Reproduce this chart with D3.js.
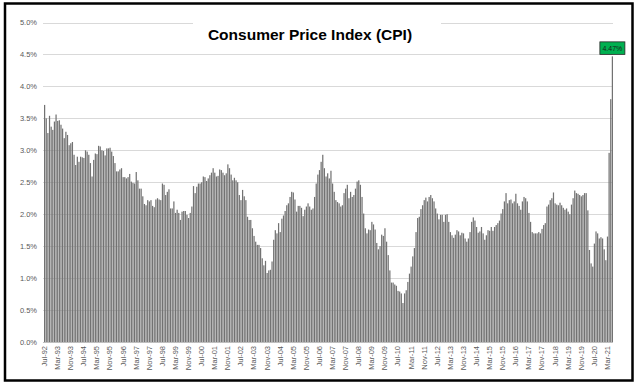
<!DOCTYPE html>
<html>
<head>
<meta charset="utf-8">
<script src="https://cdn.jsdelivr.net/npm/d3@7"></script>
<style>
  body { margin: 0; background: #fff; }
  svg { display: block; font-family: "Liberation Sans", Arial, sans-serif; }
</style>
</head>
<body>
<div id="chart"></div>
<script>
// core CPI, year over year %, monthly from Jul-92 to Jun-21
var cpi1992to1999 = [
  3.71, 3.50, 3.27, 3.54, 3.37, 3.32,
  3.45, 3.56, 3.46, 3.47, 3.40, 3.34, 3.19, 3.29, 3.24, 3.08, 3.11, 3.13,
  2.93, 2.77, 2.90, 2.82, 2.90, 2.89, 2.88, 3.00, 2.98, 2.93, 2.80, 2.59,
  2.85, 2.95, 2.94, 3.07, 3.06, 3.00, 2.99, 2.92, 3.03, 3.03, 3.04, 2.98,
  2.91, 2.80, 2.67, 2.67, 2.70, 2.72, 2.58, 2.58, 2.56, 2.58, 2.63, 2.51,
  2.49, 2.48, 2.66, 2.53, 2.40, 2.40, 2.28, 2.16, 2.14, 2.22, 2.20, 2.22,
  2.13, 2.11, 2.23, 2.25, 2.23, 2.22, 2.48, 2.46, 2.30, 2.35, 2.39, 2.09,
  2.09, 2.20, 2.02, 2.07, 2.02, 1.91, 2.04, 2.05, 2.05, 1.99, 1.94, 2.02
];
var cpi2000to2009 = [
  2.12, 2.44, 2.33, 2.43, 2.48, 2.48, 2.50, 2.59, 2.58, 2.52, 2.56, 2.61,
  2.65, 2.72, 2.65, 2.59, 2.60, 2.70, 2.69, 2.65, 2.61, 2.64, 2.78, 2.72,
  2.62, 2.53, 2.57, 2.53, 2.50, 2.30, 2.22, 2.38, 2.28, 2.22, 1.96, 1.91,
  1.91, 1.78, 1.66, 1.57, 1.52, 1.52, 1.47, 1.31, 1.20, 1.27, 1.08, 1.12,
  1.13, 1.26, 1.60, 1.75, 1.70, 1.86, 1.72, 1.93, 1.98, 2.05, 2.14, 2.17,
  2.27, 2.35, 2.34, 2.23, 2.04, 2.13, 2.13, 2.10, 1.97, 2.07, 2.12, 2.17,
  2.12, 2.07, 2.09, 2.27, 2.48, 2.62, 2.69, 2.82, 2.93, 2.72, 2.59, 2.64,
  2.56, 2.68, 2.48, 2.35, 2.22, 2.19, 2.17, 2.12, 2.14, 2.33, 2.40, 2.46,
  2.25, 2.35, 2.27, 2.30, 2.40, 2.51, 2.53, 2.46, 2.27, 2.01, 1.78, 1.70,
  1.76, 1.75, 1.88, 1.84, 1.76, 1.55, 1.45, 1.50, 1.68, 1.66, 1.78, 1.57
];
var cpi2010to2019 = [
  1.36, 1.12, 0.93, 0.93, 0.90, 0.88, 0.80, 0.79, 0.76, 0.61, 0.76, 0.81,
  0.94, 1.07, 1.18, 1.34, 1.47, 1.72, 1.94, 1.96, 2.08, 2.14, 2.22, 2.26,
  2.20, 2.27, 2.30, 2.25, 2.20, 2.09, 2.01, 1.92, 1.99, 1.99, 1.88, 1.99,
  2.00, 1.88, 1.72, 1.67, 1.63, 1.68, 1.75, 1.73, 1.67, 1.71, 1.70, 1.62,
  1.57, 1.62, 1.72, 1.88, 1.95, 1.90, 1.80, 1.71, 1.73, 1.80, 1.70, 1.60,
  1.67, 1.75, 1.74, 1.80, 1.74, 1.80, 1.83, 1.86, 1.90, 2.01, 2.08, 2.20,
  2.33, 2.17, 2.22, 2.23, 2.17, 2.20, 2.32, 2.17, 2.13, 2.07, 2.20, 2.27,
  2.25, 2.20, 2.02, 1.88, 1.72, 1.70, 1.70, 1.70, 1.72, 1.70, 1.77, 1.83,
  1.86, 2.12, 2.15, 2.22, 2.25, 2.34, 2.17, 2.15, 2.14, 2.18, 2.14, 2.10,
  2.07, 2.09, 2.04, 2.00, 2.15, 2.25, 2.37, 2.33, 2.32, 2.30, 2.28, 2.30
];
var cpi2020to2021 = [
  2.33, 2.33, 2.06, 1.44, 1.23, 1.18, 1.54, 1.73, 1.70, 1.62, 1.64, 1.62,
  1.45, 1.28, 1.65, 2.96, 3.80, 4.47
];
var tickLabels = [
  "Jul-92", "Mar-93", "Nov-93", "Jul-94", "Mar-95", "Nov-95", "Jul-96", "Mar-97",
  "Nov-97", "Jul-98", "Mar-99", "Nov-99", "Jul-00", "Mar-01", "Nov-01", "Jul-02",
  "Mar-03", "Nov-03", "Jul-04", "Mar-05", "Nov-05", "Jul-06", "Mar-07", "Nov-07",
  "Jul-08", "Mar-09", "Nov-09", "Jul-10", "Mar-11", "Nov-11", "Jul-12", "Mar-13",
  "Nov-13", "Jul-14", "Mar-15", "Nov-15", "Jul-16", "Mar-17", "Nov-17", "Jul-18",
  "Mar-19", "Nov-19", "Jul-20", "Mar-21"
];
var yTicks = [0, 0.5, 1, 1.5, 2, 2.5, 3, 3.5, 4, 4.5, 5];

var values = cpi1992to1999.concat(cpi2000to2009, cpi2010to2019, cpi2020to2021);
var months = d3.timeMonth.range(new Date(1992, 6, 1), new Date(2021, 6, 1));
var fmt = d3.timeFormat("%b-%y");
var data = months.map(function (m, i) { return { month: fmt(m), value: values[i] } });

var width = 638,
  height = 387;

var svg = d3.select("#chart")
  .append("svg")
  .attr("width", width)
  .attr("height", height);

var x = d3.scaleBand()
  .domain(data.map(function (d) { return d.month }))
  .range([44, 613])
  .paddingInner(0.25)
  .paddingOuter(0);

var y = d3.scaleLinear().domain([0, 5]).range([342, 22.5]);

// gridlines
svg.append("g")
  .selectAll("line")
  .data(yTicks.slice(1))
  .enter()
  .append("line")
  .attr("x1", 43)
  .attr("x2", 613)
  .attr("y1", function (d) { return Math.round(y(d)) + 0.5 })
  .attr("y2", function (d) { return Math.round(y(d)) + 0.5 })
  .attr("stroke", "#d9d9d9")
  .attr("stroke-width", 1);

// y axis labels
var yAxis = d3.axisLeft(y)
  .tickValues(yTicks)
  .tickSize(0)
  .tickPadding(0)
  .tickFormat(function (d) { return d.toFixed(1) + "%" });

svg.append("g")
  .attr("transform", "translate(37,0)")
  .call(yAxis)
  .call(function (g) { g.select(".domain").remove() })
  .selectAll("text")
  .attr("fill", "#595959")
  .style("font-size", "7.5px")
  .style("font-family", "Liberation Sans, Arial, sans-serif");

// bars
svg.append("g")
  .selectAll("rect")
  .data(data)
  .enter()
  .append("rect")
  .attr("x", function (d) { return x(d.month) })
  .attr("width", x.bandwidth())
  .attr("y", function (d) { return y(d.value) })
  .attr("height", function (d) { return y(0) - y(d.value) })
  .attr("fill", "#727272");

// baseline
svg.append("line")
  .attr("x1", 43)
  .attr("x2", 613)
  .attr("y1", 342.5)
  .attr("y2", 342.5)
  .attr("stroke", "#bfbfbf");

// x axis labels
var xAxis = d3.axisBottom(x)
  .tickValues(tickLabels)
  .tickSize(0)
  .tickPadding(0);

svg.append("g")
  .attr("transform", "translate(0,346)")
  .call(xAxis)
  .call(function (g) { g.select(".domain").remove() })
  .selectAll("text")
  .attr("fill", "#595959")
  .style("font-size", "7.5px")
  .style("font-family", "Liberation Sans, Arial, sans-serif")
  .attr("text-anchor", "end")
  .attr("dy", "0.32em")
  .attr("transform", "rotate(-90)")
  .attr("x", 0)
  .attr("y", 0);

// title with white backing over the top gridline
svg.append("rect")
  .attr("x", 193)
  .attr("y", 14)
  .attr("width", 248)
  .attr("height", 30)
  .attr("fill", "#fff");

svg.append("text")
  .attr("x", 310)
  .attr("y", 39.5)
  .attr("text-anchor", "middle")
  .style("font-size", "15.5px")
  .style("font-weight", "bold")
  .attr("fill", "#000")
  .text("Consumer Price Index (CPI)");

// label on last bar
var last = data[data.length - 1];
var lx = x(last.month) + x.bandwidth() / 2;
var ly = y(last.value);

svg.append("rect")
  .attr("x", lx - 12.5)
  .attr("y", ly - 14.5)
  .attr("width", 25)
  .attr("height", 12.5)
  .attr("fill", "#00b050")
  .attr("stroke", "#262626")
  .attr("stroke-width", 0.8);

svg.append("text")
  .attr("x", lx)
  .attr("y", ly - 5.5)
  .attr("text-anchor", "middle")
  .style("font-size", "7px")
  .attr("fill", "#1a1a1a")
  .text(last.value.toFixed(2) + "%");

// outer frame
svg.append("rect")
  .attr("x", 5)
  .attr("y", 3.5)
  .attr("width", 627.5)
  .attr("height", 377)
  .attr("fill", "none")
  .attr("stroke", "#000")
  .attr("stroke-width", 2.5);
</script>
</body>
</html>
